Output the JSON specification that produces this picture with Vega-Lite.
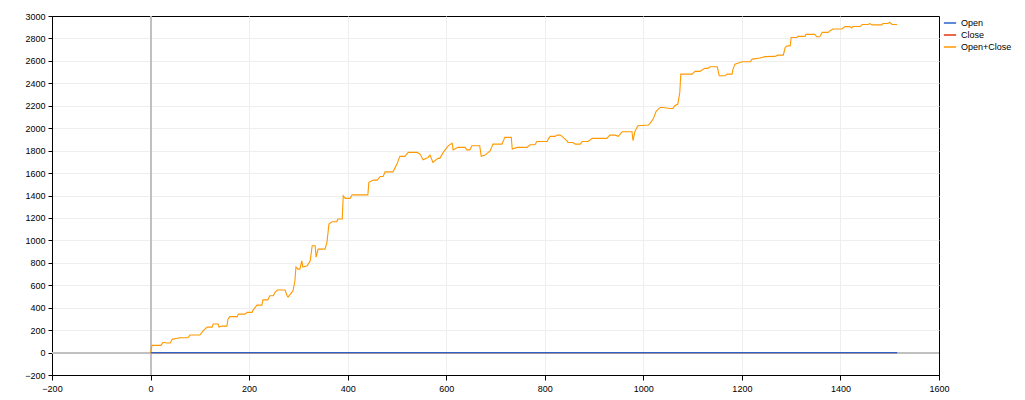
{
  "$schema": "https://vega.github.io/schema/vega-lite/v6.json",
  "autosize": "none",
  "width": 887,
  "height": 359,
  "padding": {"left": 52, "top": 16, "right": 86, "bottom": 25},
  "background": "white",
  "view": {"stroke": "#000000", "strokeWidth": 1, "fill": "white"},
  "config": {
    "font": "Liberation Sans",
    "axis": {
      "labelFont": "Liberation Sans",
      "labelFontSize": 9,
      "labelColor": "#000000",
      "tickColor": "#000000",
      "domainColor": "#000000",
      "domainWidth": 1,
      "tickWidth": 1,
      "tickSize": 4,
      "labelPadding": 3,
      "gridColor": "#eeeeee",
      "gridWidth": 1,
      "title": null
    },
    "legend": {
      "labelFont": "Liberation Sans",
      "labelFontSize": 9,
      "labelColor": "#000000"
    }
  },
  "datasets": {
    "series": [
      {"series": "Close", "x": 0, "y": 0},
      {"series": "Close", "x": 1515, "y": 0},
      {"series": "Open", "x": 0, "y": 0},
      {"series": "Open", "x": 1515, "y": 0},
      {"series": "Open+Close", "x": 0, "y": 0},
      {"series": "Open+Close", "x": 3, "y": 64},
      {"series": "Open+Close", "x": 21, "y": 64},
      {"series": "Open+Close", "x": 25, "y": 90},
      {"series": "Open+Close", "x": 29, "y": 90},
      {"series": "Open+Close", "x": 33, "y": 85},
      {"series": "Open+Close", "x": 40, "y": 85},
      {"series": "Open+Close", "x": 44, "y": 120},
      {"series": "Open+Close", "x": 46, "y": 120},
      {"series": "Open+Close", "x": 60, "y": 132},
      {"series": "Open+Close", "x": 76, "y": 132},
      {"series": "Open+Close", "x": 80, "y": 156},
      {"series": "Open+Close", "x": 100, "y": 156},
      {"series": "Open+Close", "x": 107, "y": 195},
      {"series": "Open+Close", "x": 115, "y": 227},
      {"series": "Open+Close", "x": 125, "y": 227},
      {"series": "Open+Close", "x": 127, "y": 254},
      {"series": "Open+Close", "x": 137, "y": 254},
      {"series": "Open+Close", "x": 139, "y": 227},
      {"series": "Open+Close", "x": 145, "y": 236},
      {"series": "Open+Close", "x": 155, "y": 236},
      {"series": "Open+Close", "x": 157, "y": 298},
      {"series": "Open+Close", "x": 161, "y": 320},
      {"series": "Open+Close", "x": 176, "y": 320},
      {"series": "Open+Close", "x": 178, "y": 343},
      {"series": "Open+Close", "x": 192, "y": 343},
      {"series": "Open+Close", "x": 196, "y": 358},
      {"series": "Open+Close", "x": 206, "y": 358},
      {"series": "Open+Close", "x": 208, "y": 379},
      {"series": "Open+Close", "x": 216, "y": 423},
      {"series": "Open+Close", "x": 226, "y": 423},
      {"series": "Open+Close", "x": 228, "y": 470},
      {"series": "Open+Close", "x": 238, "y": 470},
      {"series": "Open+Close", "x": 242, "y": 506},
      {"series": "Open+Close", "x": 249, "y": 506},
      {"series": "Open+Close", "x": 253, "y": 540},
      {"series": "Open+Close", "x": 257, "y": 557},
      {"series": "Open+Close", "x": 273, "y": 557},
      {"series": "Open+Close", "x": 277, "y": 506},
      {"series": "Open+Close", "x": 279, "y": 495},
      {"series": "Open+Close", "x": 287, "y": 539},
      {"series": "Open+Close", "x": 289, "y": 551},
      {"series": "Open+Close", "x": 293, "y": 640},
      {"series": "Open+Close", "x": 295, "y": 762},
      {"series": "Open+Close", "x": 299, "y": 744},
      {"series": "Open+Close", "x": 303, "y": 744},
      {"series": "Open+Close", "x": 307, "y": 818},
      {"series": "Open+Close", "x": 309, "y": 762},
      {"series": "Open+Close", "x": 318, "y": 774},
      {"series": "Open+Close", "x": 324, "y": 818},
      {"series": "Open+Close", "x": 328, "y": 952},
      {"series": "Open+Close", "x": 334, "y": 952},
      {"series": "Open+Close", "x": 336, "y": 851},
      {"series": "Open+Close", "x": 340, "y": 922},
      {"series": "Open+Close", "x": 354, "y": 922},
      {"series": "Open+Close", "x": 358, "y": 985},
      {"series": "Open+Close", "x": 362, "y": 1145},
      {"series": "Open+Close", "x": 368, "y": 1166},
      {"series": "Open+Close", "x": 378, "y": 1166},
      {"series": "Open+Close", "x": 380, "y": 1190},
      {"series": "Open+Close", "x": 389, "y": 1190},
      {"series": "Open+Close", "x": 391, "y": 1398},
      {"series": "Open+Close", "x": 395, "y": 1374},
      {"series": "Open+Close", "x": 405, "y": 1374},
      {"series": "Open+Close", "x": 409, "y": 1406},
      {"series": "Open+Close", "x": 441, "y": 1406},
      {"series": "Open+Close", "x": 443, "y": 1517},
      {"series": "Open+Close", "x": 452, "y": 1537},
      {"series": "Open+Close", "x": 460, "y": 1537},
      {"series": "Open+Close", "x": 466, "y": 1570},
      {"series": "Open+Close", "x": 472, "y": 1570},
      {"series": "Open+Close", "x": 476, "y": 1611},
      {"series": "Open+Close", "x": 492, "y": 1611},
      {"series": "Open+Close", "x": 500, "y": 1680},
      {"series": "Open+Close", "x": 506, "y": 1749},
      {"series": "Open+Close", "x": 516, "y": 1749},
      {"series": "Open+Close", "x": 523, "y": 1784},
      {"series": "Open+Close", "x": 541, "y": 1784},
      {"series": "Open+Close", "x": 547, "y": 1769},
      {"series": "Open+Close", "x": 553, "y": 1718},
      {"series": "Open+Close", "x": 563, "y": 1739},
      {"series": "Open+Close", "x": 567, "y": 1760},
      {"series": "Open+Close", "x": 573, "y": 1695},
      {"series": "Open+Close", "x": 583, "y": 1731},
      {"series": "Open+Close", "x": 587, "y": 1731},
      {"series": "Open+Close", "x": 594, "y": 1784},
      {"series": "Open+Close", "x": 604, "y": 1843},
      {"series": "Open+Close", "x": 612, "y": 1867},
      {"series": "Open+Close", "x": 614, "y": 1807},
      {"series": "Open+Close", "x": 624, "y": 1829},
      {"series": "Open+Close", "x": 638, "y": 1829},
      {"series": "Open+Close", "x": 642, "y": 1807},
      {"series": "Open+Close", "x": 648, "y": 1807},
      {"series": "Open+Close", "x": 652, "y": 1843},
      {"series": "Open+Close", "x": 668, "y": 1843},
      {"series": "Open+Close", "x": 671, "y": 1749},
      {"series": "Open+Close", "x": 679, "y": 1760},
      {"series": "Open+Close", "x": 689, "y": 1798},
      {"series": "Open+Close", "x": 695, "y": 1858},
      {"series": "Open+Close", "x": 713, "y": 1858},
      {"series": "Open+Close", "x": 719, "y": 1918},
      {"series": "Open+Close", "x": 732, "y": 1918},
      {"series": "Open+Close", "x": 734, "y": 1814},
      {"series": "Open+Close", "x": 744, "y": 1829},
      {"series": "Open+Close", "x": 764, "y": 1829},
      {"series": "Open+Close", "x": 770, "y": 1852},
      {"series": "Open+Close", "x": 780, "y": 1852},
      {"series": "Open+Close", "x": 784, "y": 1882},
      {"series": "Open+Close", "x": 805, "y": 1882},
      {"series": "Open+Close", "x": 807, "y": 1903},
      {"series": "Open+Close", "x": 811, "y": 1927},
      {"series": "Open+Close", "x": 821, "y": 1927},
      {"series": "Open+Close", "x": 825, "y": 1938},
      {"series": "Open+Close", "x": 831, "y": 1938},
      {"series": "Open+Close", "x": 835, "y": 1927},
      {"series": "Open+Close", "x": 845, "y": 1888},
      {"series": "Open+Close", "x": 847, "y": 1873},
      {"series": "Open+Close", "x": 857, "y": 1873},
      {"series": "Open+Close", "x": 862, "y": 1858},
      {"series": "Open+Close", "x": 872, "y": 1858},
      {"series": "Open+Close", "x": 876, "y": 1882},
      {"series": "Open+Close", "x": 888, "y": 1882},
      {"series": "Open+Close", "x": 896, "y": 1909},
      {"series": "Open+Close", "x": 926, "y": 1909},
      {"series": "Open+Close", "x": 932, "y": 1938},
      {"series": "Open+Close", "x": 943, "y": 1938},
      {"series": "Open+Close", "x": 949, "y": 1927},
      {"series": "Open+Close", "x": 957, "y": 1968},
      {"series": "Open+Close", "x": 977, "y": 1968},
      {"series": "Open+Close", "x": 979, "y": 1888},
      {"series": "Open+Close", "x": 983, "y": 1972},
      {"series": "Open+Close", "x": 989, "y": 2022},
      {"series": "Open+Close", "x": 1010, "y": 2028},
      {"series": "Open+Close", "x": 1014, "y": 2045},
      {"series": "Open+Close", "x": 1020, "y": 2081},
      {"series": "Open+Close", "x": 1026, "y": 2150},
      {"series": "Open+Close", "x": 1034, "y": 2185},
      {"series": "Open+Close", "x": 1040, "y": 2185},
      {"series": "Open+Close", "x": 1054, "y": 2176},
      {"series": "Open+Close", "x": 1060, "y": 2176},
      {"series": "Open+Close", "x": 1064, "y": 2200},
      {"series": "Open+Close", "x": 1070, "y": 2215},
      {"series": "Open+Close", "x": 1074, "y": 2319},
      {"series": "Open+Close", "x": 1076, "y": 2482},
      {"series": "Open+Close", "x": 1099, "y": 2482},
      {"series": "Open+Close", "x": 1101, "y": 2491},
      {"series": "Open+Close", "x": 1105, "y": 2506},
      {"series": "Open+Close", "x": 1115, "y": 2506},
      {"series": "Open+Close", "x": 1119, "y": 2518},
      {"series": "Open+Close", "x": 1125, "y": 2533},
      {"series": "Open+Close", "x": 1131, "y": 2533},
      {"series": "Open+Close", "x": 1135, "y": 2547},
      {"series": "Open+Close", "x": 1150, "y": 2547},
      {"series": "Open+Close", "x": 1154, "y": 2467},
      {"series": "Open+Close", "x": 1166, "y": 2467},
      {"series": "Open+Close", "x": 1170, "y": 2482},
      {"series": "Open+Close", "x": 1180, "y": 2482},
      {"series": "Open+Close", "x": 1182, "y": 2527},
      {"series": "Open+Close", "x": 1186, "y": 2571},
      {"series": "Open+Close", "x": 1196, "y": 2586},
      {"series": "Open+Close", "x": 1200, "y": 2592},
      {"series": "Open+Close", "x": 1217, "y": 2592},
      {"series": "Open+Close", "x": 1221, "y": 2616},
      {"series": "Open+Close", "x": 1237, "y": 2625},
      {"series": "Open+Close", "x": 1247, "y": 2638},
      {"series": "Open+Close", "x": 1267, "y": 2640},
      {"series": "Open+Close", "x": 1273, "y": 2651},
      {"series": "Open+Close", "x": 1284, "y": 2651},
      {"series": "Open+Close", "x": 1288, "y": 2720},
      {"series": "Open+Close", "x": 1292, "y": 2734},
      {"series": "Open+Close", "x": 1298, "y": 2734},
      {"series": "Open+Close", "x": 1300, "y": 2809},
      {"series": "Open+Close", "x": 1312, "y": 2809},
      {"series": "Open+Close", "x": 1314, "y": 2818},
      {"series": "Open+Close", "x": 1328, "y": 2818},
      {"series": "Open+Close", "x": 1330, "y": 2836},
      {"series": "Open+Close", "x": 1348, "y": 2836},
      {"series": "Open+Close", "x": 1352, "y": 2815},
      {"series": "Open+Close", "x": 1358, "y": 2815},
      {"series": "Open+Close", "x": 1363, "y": 2854},
      {"series": "Open+Close", "x": 1375, "y": 2854},
      {"series": "Open+Close", "x": 1379, "y": 2869},
      {"series": "Open+Close", "x": 1385, "y": 2884},
      {"series": "Open+Close", "x": 1403, "y": 2884},
      {"series": "Open+Close", "x": 1409, "y": 2905},
      {"series": "Open+Close", "x": 1419, "y": 2905},
      {"series": "Open+Close", "x": 1423, "y": 2893},
      {"series": "Open+Close", "x": 1425, "y": 2906},
      {"series": "Open+Close", "x": 1440, "y": 2906},
      {"series": "Open+Close", "x": 1444, "y": 2924},
      {"series": "Open+Close", "x": 1456, "y": 2924},
      {"series": "Open+Close", "x": 1460, "y": 2933},
      {"series": "Open+Close", "x": 1464, "y": 2921},
      {"series": "Open+Close", "x": 1484, "y": 2921},
      {"series": "Open+Close", "x": 1486, "y": 2933},
      {"series": "Open+Close", "x": 1496, "y": 2933},
      {"series": "Open+Close", "x": 1500, "y": 2942},
      {"series": "Open+Close", "x": 1505, "y": 2924},
      {"series": "Open+Close", "x": 1515, "y": 2924}
    ]
  },
  "data": {"name": "series"},
  "encoding": {
    "x": {
      "field": "x",
      "type": "quantitative",
      "scale": {"domain": [-200, 1600], "nice": false, "zero": false},
      "axis": {
        "values": [-200, 0, 200, 400, 600, 800, 1000, 1200, 1400, 1600],
        "format": "d",
        "tickSize": 5,
        "labelPadding": 4,
        "labelFlush": false,
        "domainColor": "#000000",
        "tickColor": "#000000",
        "gridOpacity": {"condition": {"test": "datum.value === -200 || datum.value === 1600 || datum.value === 0", "value": 0}, "value": 1}
      }
    },
    "y": {
      "field": "y",
      "type": "quantitative",
      "scale": {"domain": [-200, 3000], "nice": false, "zero": false},
      "axis": {
        "values": [-200, 0, 200, 400, 600, 800, 1000, 1200, 1400, 1600, 1800, 2000, 2200, 2400, 2600, 2800, 3000],
        "format": "d",
        "labelFlush": false,
        "domainColor": "#000000",
        "tickColor": "#000000",
        "gridOpacity": {"condition": {"test": "datum.value === -200 || datum.value === 3000 || datum.value === 0", "value": 0}, "value": 1}
      }
    }
  },
  "layer": [
    {
      "mark": {"type": "rule", "color": "#c0c0c0", "strokeWidth": 1},
      "encoding": {"x": {"datum": 0}, "y": null}
    },
    {
      "mark": {"type": "rule", "color": "#c0c0c0", "strokeWidth": 1},
      "encoding": {"y": {"datum": 0}, "x": null}
    },
    {
      "transform": [{"filter": "datum.series === 'Close'"}],
      "mark": {"type": "line", "strokeWidth": 1.3},
      "encoding": {
        "color": {
          "field": "series",
          "type": "nominal",
          "scale": {"domain": ["Open", "Close", "Open+Close"], "range": ["#2b62c8", "#e0360f", "#ff9900"]},
          "legend": {
            "title": null,
            "orient": "right",
            "offset": 4,
            "padding": 0,
            "symbolType": "stroke",
            "symbolSize": 150,
            "symbolStrokeWidth": 1.5,
            "labelOffset": 4,
            "rowPadding": 0
          }
        }
      }
    },
    {
      "transform": [{"filter": "datum.series === 'Open'"}],
      "mark": {"type": "line", "strokeWidth": 1.3},
      "encoding": {"color": {"field": "series", "type": "nominal"}}
    },
    {
      "transform": [{"filter": "datum.series === 'Open+Close'"}],
      "mark": {"type": "line", "strokeWidth": 1.1},
      "encoding": {"color": {"field": "series", "type": "nominal"}}
    }
  ]
}
